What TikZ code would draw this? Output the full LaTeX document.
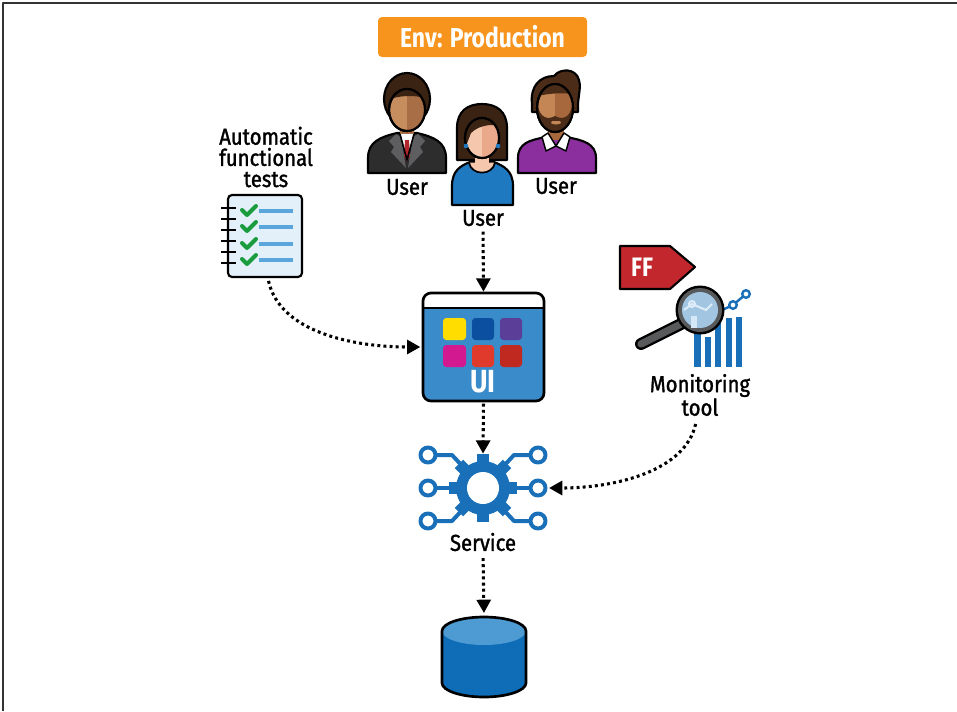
\documentclass[tikz,border=0pt]{standalone}
\usepackage{fontspec}
\setmainfont{Fira Sans}[FakeStretch=0.84]
\newfontfamily\labelfont{Fira Sans}[FakeStretch=0.88, FakeBold=1.4]
\usetikzlibrary{arrows.meta}

\definecolor{envorange}{HTML}{F7941D}
\definecolor{uiblue}{HTML}{3A8BC9}
\definecolor{gearblue}{HTML}{1A70B8}
\definecolor{dbblue}{HTML}{0E6DB6}
\definecolor{dbtop}{HTML}{4D9BD2}
\definecolor{padfill}{HTML}{E4F0F9}
\definecolor{padline}{HTML}{5AA5DC}
\definecolor{checkgreen}{HTML}{1A9C3E}
\definecolor{sqyellow}{HTML}{FFDD00}
\definecolor{sqnavy}{HTML}{0B4FA0}
\definecolor{sqpurple}{HTML}{5A3E98}
\definecolor{sqmagenta}{HTML}{D3198F}
\definecolor{sqred}{HTML}{E03A2C}
\definecolor{sqdarkred}{HTML}{C0291F}
\definecolor{ffred}{HTML}{C1272D}
\definecolor{lensblue}{HTML}{A9D0EE}
\definecolor{ringgray}{HTML}{58595B}
\definecolor{suit}{HTML}{2D2D2E}
\definecolor{lapel}{HTML}{5E5E60}
\definecolor{tiered}{HTML}{B3262C}
\definecolor{skinA}{HTML}{C68D5F}
\definecolor{skinAd}{HTML}{A86E46}
\definecolor{hairA}{HTML}{3B2314}
\definecolor{skinB}{HTML}{F5C8AD}
\definecolor{skinBd}{HTML}{EBA98C}
\definecolor{topblue}{HTML}{1F79C0}
\definecolor{skinC}{HTML}{C58655}
\definecolor{skinCd}{HTML}{A8683D}
\definecolor{hairC}{HTML}{4A2C18}
\definecolor{sweater}{HTML}{8B2F9F}

\tikzset{
  lbl/.style={font=\labelfont\fontsize{17.3}{15.9}\selectfont, align=center, inner sep=0pt, text=black},
  flow/.style={line width=2.3pt, dash pattern=on 2.2pt off 2.4pt,
    -{Triangle[length=10pt,width=10.5pt]}},
  outl/.style={draw=black, line width=1.6pt},
  anchorbox/.style={inner sep=0pt, outer sep=0pt},
}

\begin{document}
\begin{tikzpicture}[x=0.75pt, y=-0.75pt, line join=round]
\useasboundingbox (0,0) rectangle (957,711);

% frame edges
\draw[black!80, line width=1.6pt] (3,711) -- (3,3) -- (957,3);

% environment banner
\node[fill=envorange, rounded corners=3pt, minimum width=156.75pt, minimum height=30pt,
      text=white, font=\bfseries\fontsize{20.5}{21}\selectfont, inner sep=0pt] (env) at (482.5,37) {Env: Production};

% ---------- user, left (suit) ----------
\filldraw[fill=suit, outl] (368,173) -- (368,158) .. controls (368,142) and (380,137) .. (397,133)
  -- (417,133) .. controls (434,137) and (446,142) .. (446,158) -- (446,173) -- cycle;
\fill[lapel] (396,134) -- (389,141) -- (394,147) -- (391,152) -- (406,168) -- (401,137) -- cycle;
\fill[lapel] (418,134) -- (425,141) -- (420,147) -- (423,152) -- (408,168) -- (413,137) -- cycle;
\fill[skinAd] (400,120) rectangle (414,136);
\fill[white] (400,134) -- (414,134) -- (407,160) -- cycle;
\fill[tiered] (405,140) -- (409,140) -- (410,156) -- (407,161) -- (404,156) -- cycle;
\draw[black, line width=1.2pt] (400,134) -- (407,160) -- (414,134);
\filldraw[fill=hairA, outl] (407,99) ellipse [x radius=23, y radius=26];
\filldraw[fill=skinA, outl] (407,110) ellipse [x radius=18, y radius=21];
\begin{scope}
  \clip (407,110) ellipse [x radius=18, y radius=21];
  \fill[skinAd] (407,85) rectangle (430,135);
  \fill[hairA] (385,85) -- (430,85) -- (430,100) .. controls (420,95) and (400,94) .. (385,101) -- cycle;
\end{scope}
\draw[black, line width=1.6pt] (407,110) ellipse [x radius=18, y radius=21];
\node[lbl] (userl) at (407,187) {User};

% ---------- user, right (beard) ----------
\filldraw[fill=sweater, outl] (518,173) -- (518,158) .. controls (518,143) and (530,140) .. (546,137)
  -- (566,137) .. controls (582,140) and (596,143) .. (596,158) -- (596,173) -- cycle;
\fill[skinCd] (548,122) rectangle (564,140);
\filldraw[fill=white, draw=black, line width=1.1pt] (542,137) -- (548,133) -- (556,146) -- (564,133) -- (570,137) -- (566,151) -- (556,146) -- (546,151) -- cycle;
\filldraw[fill=hairC, outl] (532,104) .. controls (530,86) and (540,76) .. (554,76)
  .. controls (560,68) and (576,68) .. (579,80) .. controls (581,86) and (579,92) .. (578,104)
  -- (578,112) -- (532,112) -- cycle;
\filldraw[fill=skinC, outl] (555,108) ellipse [x radius=18, y radius=24];
\begin{scope}
  \clip (555,108) ellipse [x radius=18, y radius=24];
  \fill[skinCd] (555,80) rectangle (580,135);
  \fill[hairC] (530,80) -- (580,80) -- (580,96) .. controls (570,92) and (545,92) .. (530,99) -- cycle;
  \fill[hairC] (530,104) -- (538,106) .. controls (540,118) and (548,120) .. (555,116)
     .. controls (562,120) and (570,118) .. (572,106) -- (580,104) -- (580,140) -- (530,140) -- cycle;
  \fill[skinC] (551,123) .. controls (553,125) and (559,125) .. (561,123) -- (560,121) -- (552,121) -- cycle;
\end{scope}
\draw[black, line width=1.6pt] (555,108) ellipse [x radius=18, y radius=24];
\node[lbl] (userr) at (556,186) {User};

% ---------- user, middle (front) ----------
\filldraw[fill=hairA, outl] (457,160) -- (457,128) .. controls (457,111) and (468,104) .. (482,104)
  .. controls (496,104) and (507,111) .. (507,128) -- (507,160) -- cycle;
\filldraw[fill=topblue, outl] (452,205) -- (452,186) .. controls (452,171) and (460,166) .. (470,162)
  -- (494,162) .. controls (504,166) and (513,171) .. (513,186) -- (513,205) -- cycle;
\fill[skinB] (475,148) rectangle (489,164);
\filldraw[fill=skinB, draw=black, line width=1.3pt] (469,162.5) .. controls (471,176) and (493,176) .. (495,162.5);
\filldraw[fill=skinB, outl] (482,138) ellipse [x radius=17, y radius=20];
\begin{scope}
  \clip (482,138) ellipse [x radius=17, y radius=20];
  \fill[skinBd] (482,115) rectangle (502,160);
  \fill[hairA] (460,115) -- (505,115) -- (505,128) .. controls (496,123) and (480,124) .. (471,133)
     -- (466,146) -- (460,146) -- cycle;
\end{scope}
\draw[black, line width=1.6pt] (482,138) ellipse [x radius=17, y radius=20];
\fill[topblue] (466,146) circle [radius=2.3];
\fill[topblue] (498,146) circle [radius=2.3];
\node[lbl] (userm) at (483,218) {User};

% ---------- functional tests checklist ----------
\node[lbl] (testlbl) at (266,157) {Automatic\\functional\\tests};
\node[anchorbox, minimum width=55.5pt, minimum height=61.5pt] (pad) at (265,236) {};
\filldraw[fill=padfill, outl, rounded corners=3pt] (228,195) rectangle (302,277);
\foreach \y in {208,219,230,241,252,263}
  \draw[black, line width=1.6pt] (221,\y) -- (236,\y);
\foreach \y in {211,227,244,260} {
  \draw[checkgreen, line width=3pt, line cap=round] (242,\y-1) -- (247,\y+4) -- (256,\y-5);
  \draw[padline, line width=3.6pt] (259,\y) -- (293,\y);
}

% ---------- UI window ----------
\node[anchorbox, minimum width=90.75pt, minimum height=81pt] (ui) at (483.5,347) {};
\fill[uiblue, rounded corners=6pt] (423,293) rectangle (544,401);
\begin{scope}
  \clip[rounded corners=6pt] (423,293) rectangle (544,401);
  \fill[white] (423,293) rectangle (544,308);
\end{scope}
\draw[black, line width=1.6pt] (423,308) -- (544,308);
\draw[black, line width=2pt, rounded corners=6pt] (423,293) rectangle (544,401);
\fill[sqyellow, rounded corners=2.5pt] (443,318) rectangle (466,340);
\fill[sqnavy, rounded corners=2.5pt] (472,318) rectangle (494,340);
\fill[sqpurple, rounded corners=2.5pt] (500,318) rectangle (522,340);
\fill[sqmagenta, rounded corners=2.5pt] (443,345) rectangle (466,367);
\fill[sqred, rounded corners=2.5pt] (472,345) rectangle (494,367);
\fill[sqdarkred, rounded corners=2.5pt] (500,345) rectangle (522,367);
\node[text=white, font=\bfseries\fontsize{24}{24}\selectfont, inner sep=0pt] (uitext) at (483,382) {UI};

% ---------- service (gear with circuit) ----------
\node[anchorbox, circle, minimum size=49.5pt] (gear) at (483,488) {};
\node[anchorbox, minimum width=93pt, minimum height=60pt] (circuit) at (483,488) {};
\begin{scope}[gearblue, line width=3pt]
  \draw (436,455) -- (452,455) -- (466,470);
  \draw (436,488) -- (460,488);
  \draw (436,521) -- (452,521) -- (466,506);
  \draw (530,455) -- (514,455) -- (500,470);
  \draw (530,488) -- (506,488);
  \draw (530,521) -- (514,521) -- (500,506);
  \foreach \x in {428,538} \foreach \y in {455,488,521}
    \draw[fill=white] (\x,\y) circle [radius=7.5];
\end{scope}
\fill[gearblue] (483,488) circle [radius=27];
\foreach \a in {0,45,...,315}
  \fill[gearblue, rotate around={\a:(483,488)}] (477,454) rectangle (489,464);
\fill[white] (483,488) circle [radius=16];
\node[lbl] (svclbl) at (483,542) {Service};

% ---------- database ----------
\node[anchorbox, minimum width=63pt, minimum height=60pt] (db) at (484,657) {};
\fill[dbblue] (442,683) -- (442,631) arc[start angle=180, end angle=360, x radius=42, y radius=14]
  -- (526,683) arc[start angle=0, end angle=180, x radius=42, y radius=14] -- cycle;
\fill[dbtop] (484,631) ellipse [x radius=42, y radius=14];
\draw[black, line width=2pt] (442,683) -- (442,631) arc[start angle=180, end angle=360, x radius=42, y radius=14]
  -- (526,683) arc[start angle=0, end angle=180, x radius=42, y radius=14] -- cycle;

% ---------- feature flag tag and monitoring tool ----------
\filldraw[fill=ffred, outl] (620,246) -- (670,246) -- (695,267) -- (670,289) -- (620,289) -- cycle;
\node[text=white, font=\bfseries\fontsize{20}{20}\selectfont, inner sep=0pt] (fftext) at (642,267) {FF};
\foreach \xa/\xb/\t in {694/701/312, 705/711/337, 715/721/323, 726/732/318, 736/742/317}
  \fill[gearblue] (\xa,\t) rectangle (\xb,367);
\draw[gearblue, line width=1.8pt] (720,311) -- (733,305) -- (746,294);
\draw[gearblue, line width=1.8pt, fill=white] (733,305) circle [radius=3.8];
\draw[gearblue, line width=1.8pt, fill=white] (746,294) circle [radius=3.8];
\draw[black, line width=9pt, line cap=round] (683,323) -- (641,344);
\draw[ringgray, line width=5.5pt, line cap=round] (683,323) -- (641,344);
\fill[black] (700,310) circle [radius=24.5];
\fill[ringgray] (700,310) circle [radius=22];
\fill[lensblue, fill opacity=0.92] (700,310) circle [radius=18];
\draw[white!60!lensblue, line width=1.5pt] (684,310) -- (692,304) -- (706,310) -- (712,304);
\draw[white!60!lensblue, line width=1.5pt] (692,304) circle [radius=3];
\fill[white!50!lensblue] (691,316) rectangle (697,328);
\node[lbl] (monlbl) at (700,395) {Monitoring\\tool};

% ---------- connectors ----------
\draw[flow, shorten <=4pt, shorten >=1pt] (userm.south) -- (ui.north);
\draw[flow, shorten <=3pt, shorten >=2pt] ([xshift=2pt]pad.south) .. controls +(12,55) and +(-70,0) .. (ui.west);
\draw[flow, shorten <=2pt, shorten >=1pt] (ui.south) -- (gear.north);
\draw[flow, shorten <=5pt, shorten >=3pt] (svclbl.south) -- (db.north);
\draw[flow, shorten <=6pt, shorten >=3pt] ([xshift=-2pt]monlbl.south) .. controls +(-12,55) and +(70,0) .. (circuit.east);
\end{tikzpicture}
\end{document}
